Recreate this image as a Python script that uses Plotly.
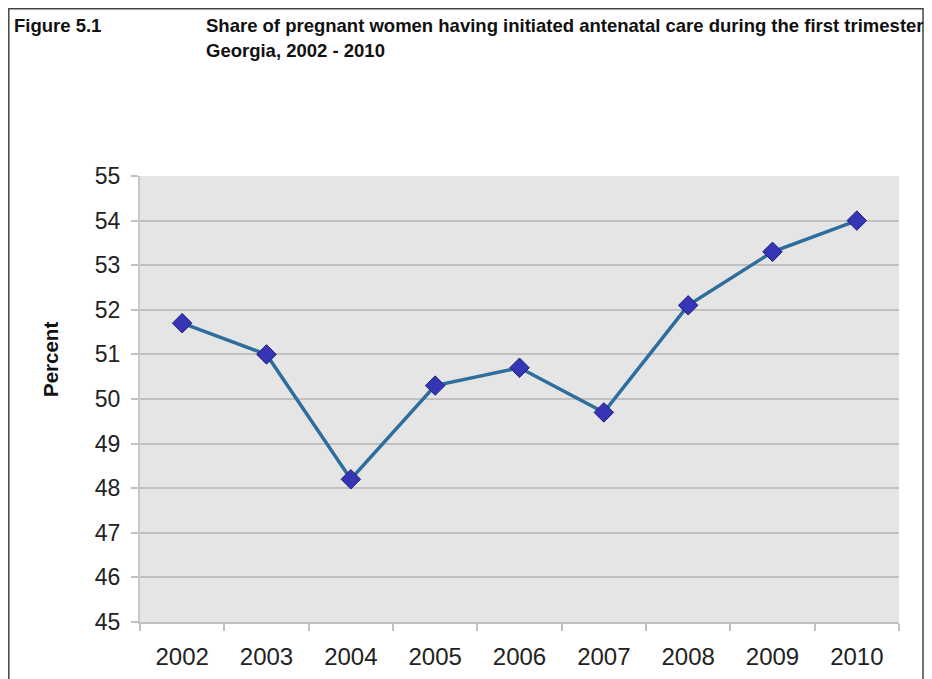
import plotly.graph_objects as go

years = ["2002", "2003", "2004", "2005", "2006", "2007", "2008", "2009", "2010"]
share = [51.7, 51.0, 48.2, 50.3, 50.7, 49.7, 52.1, 53.3, 54.0]
y_ticks = [45, 46, 47, 48, 49, 50, 51, 52, 53, 54, 55]

# page body margin offset (8px) compensation
OFF = 8
W, H = 932 - OFF, 679 - OFF
ML, MR, MT, MB = 140 - OFF, 33, 176 - OFF, 57
PW, PH = W - ML - MR, H - MT - MB


def px_x(x):
    # x in page pixels
    return (x - OFF - ML) / PW


def px_y(y):
    return (H - MB - (y - OFF)) / PH


fig = go.Figure()
fig.add_trace(go.Scatter(
    x=years, y=share, mode="lines+markers",
    line=dict(color="#2E6E9E", width=3.5),
    marker=dict(symbol="diamond", size=15, color="#3535B5",
                line=dict(color="#1E1E80", width=1)),
    showlegend=False,
))

fig.update_layout(
    width=W, height=H,
    margin=dict(l=ML, r=MR, t=MT, b=MB, autoexpand=False),
    paper_bgcolor="white",
    plot_bgcolor="#E5E5E5",
    font=dict(family="Arial, Liberation Sans, sans-serif", color="#222"),
    xaxis=dict(
        type="category", tickson="boundaries", ticks="outside", ticklen=7,
        tickcolor="#C0C0C0", tickwidth=1.5, showgrid=False, automargin=False,
        showline=True, linecolor="#C0C0C0", linewidth=1.5,
        tickfont=dict(size=24, color="#222"), ticklabelstandoff=12,
        range=[-0.5, len(years) - 0.5],
    ),
    yaxis=dict(
        range=[45, 55], tickvals=y_ticks, ticks="outside", ticklen=7,
        tickcolor="#C0C0C0", tickwidth=1.5, showgrid=True, automargin=False,
        gridcolor="#C0C0C0", gridwidth=1.5, zeroline=False,
        showline=True, linecolor="#C8C8C8", linewidth=2,
        tickfont=dict(size=23, color="#222"), ticklabelstandoff=6,
    ),
    shapes=[
        dict(type="rect", xref="paper", yref="paper",
             x0=px_x(8.8), x1=px_x(923), y0=px_y(8.8), y1=px_y(720),
             line=dict(color="#444", width=1.5), fillcolor="rgba(0,0,0,0)"),
    ],
    annotations=[
        dict(text="<b>Figure 5.1</b>", xref="paper", yref="paper",
             x=px_x(12), y=px_y(25), xanchor="left", yanchor="middle",
             showarrow=False, font=dict(size=18.5, color="#111")),
        dict(text="<b>Share of pregnant women having initiated antenatal care during the first trimester,</b>",
             xref="paper", yref="paper",
             x=px_x(204), y=px_y(25), xanchor="left", yanchor="middle",
             showarrow=False, font=dict(size=18.5, color="#111")),
        dict(text="<b>Georgia, 2002 - 2010</b>", xref="paper", yref="paper",
             x=px_x(204), y=px_y(51), xanchor="left", yanchor="middle",
             showarrow=False, font=dict(size=18.5, color="#111")),
        dict(text="<b>Percent</b>", xref="paper", yref="paper",
             x=px_x(50), y=px_y(360), xanchor="center", yanchor="middle",
             textangle=-90, showarrow=False, font=dict(size=20.5, color="#111")),
    ],
)

fig.write_html("out.html")
